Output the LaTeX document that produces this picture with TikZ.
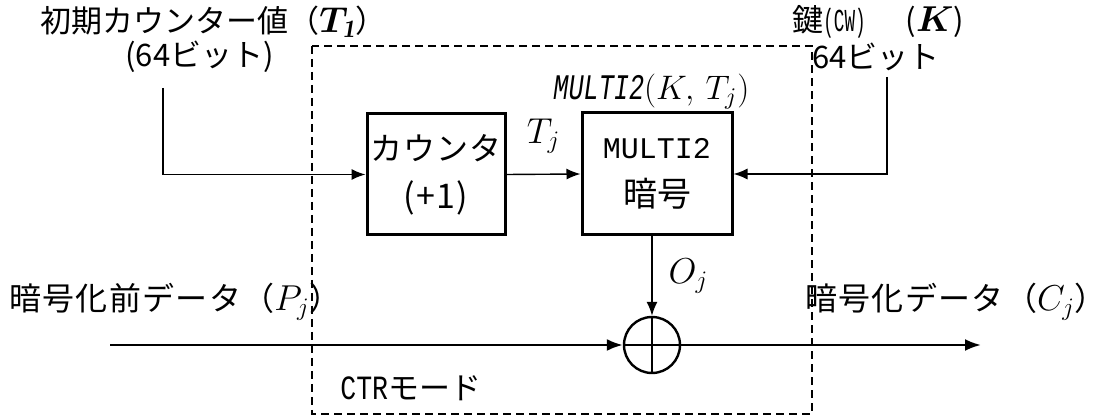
\documentclass[tikz,border=0pt]{standalone}
\usepackage{fix-cm}
\usepackage{amsmath,bm}
\usepackage{fontspec}
\newfontfamily\jpfont{Noto Sans CJK JP}
\newfontfamily\jpwide{Noto Sans CJK JP}[LetterSpace=4]
\newfontfamily\monofont{Liberation Mono}
\newcommand\ctrsym[1]{{\fontsize{18}{22}\selectfont$#1$}}
\newcommand\ctrlatin[3][1]{{\monofont\fontsize{#2}{18}\selectfont\scalebox{#1}[1]{#3}}}
\usetikzlibrary{arrows.meta}
\tikzset{
  ctr flow/.style={-{Latex[length=7pt,width=5.5pt]},line width=0.7pt},
  ctr data/.style={-{Latex[length=8pt,width=6pt]},line width=1.2pt},
  ctr box/.style={draw,line width=1.5pt,align=center,inner sep=0pt},
  ctr frame/.style={draw,line width=0.7pt,dash pattern=on 4pt off 2.5pt},
  ctr text/.style={font=\jpfont\fontsize{15.5}{22}\selectfont,inner sep=0pt},
  ctr wide/.style={font=\jpwide\fontsize{16}{22}\selectfont},
  ctr xor/.style={draw,circle,line width=1.2pt,minimum size=28pt,inner sep=0pt}
}

\begin{document}
\begin{tikzpicture}[x=0.5pt,y=-0.5pt,every node/.style={ctr text}]
  \useasboundingbox (0,0) rectangle (1099,416);
  % CTR frame
  \draw[ctr frame] (312,46) rectangle (812,414);
  \node[anchor=west] (mode) at (340,388) {\ctrlatin[0.78]{17}{CTR}モード};

  % blocks
  \node[ctr box,ctr wide,minimum width=69pt,minimum height=60.5pt] (cnt) at (436,174.5)
    {カウンタ\\[2pt]{\fontsize{17}{20}\selectfont(+1)}};
  \node[ctr box,minimum width=75pt,minimum height=61pt] (mul) at (657,174)
    {\ctrlatin{15}{MULTI2}\\[2pt]\fontsize{17}{20}\selectfont 暗号};
  \node[ctr xor] (xor) at (652,345) {};
  \draw[line width=1.2pt] (xor.north) -- (xor.south) (xor.west) -- (xor.east);

  % inputs
  \node[anchor=west] (init) at (40,22) {初期カウンター値（\ctrsym{\bm{T_{\mathit{1}}}}）};
  \node[anchor=west] (initbits) at (125,57) {(64ビット)};
  \node[anchor=west] (key) at (792,22)
    {鍵\ctrlatin[0.55]{16}{(CW)}\hspace{20pt}(\ctrsym{\bm{K}})};
  \node[anchor=west] (keybits) at (812,57) {64ビット};
  \node[anchor=west] (mulout) at (553,92)
    {\ctrlatin[0.7]{18}{\itshape MULTI2}{\fontsize{17}{20}\selectfont$(K,\,T_j)$}};
  \coordinate (initin) at (163,88);
  \coordinate (keyin) at (887,77);

  \draw[ctr flow] (initin) |- (cnt.west);
  \draw[ctr flow] (keyin) |- (mul.east);
  \draw[ctr flow] (cnt.east) -- node[above=10pt] (tj) {\ctrsym{T_j}} (mul.west);
  \draw[ctr flow] (xor |- mul.south) -- node[right=8pt] (oj) {\ctrsym{O_j}} (xor.north);

  % data path
  \node[ctr wide,anchor=west] (plain) at (9,302) {暗号化前データ（\ctrsym{P_j}）};
  \node[ctr wide,anchor=west] (cipher) at (805,302) {暗号化データ（\ctrsym{C_j}）\hspace{-8pt}};
  \coordinate (datain) at (110,345);
  \coordinate (dataout) at (981,345);
  \draw[ctr data] (datain) -- (xor.west);
  \draw[ctr data] (xor.east) -- (dataout);
\end{tikzpicture}
\end{document}
